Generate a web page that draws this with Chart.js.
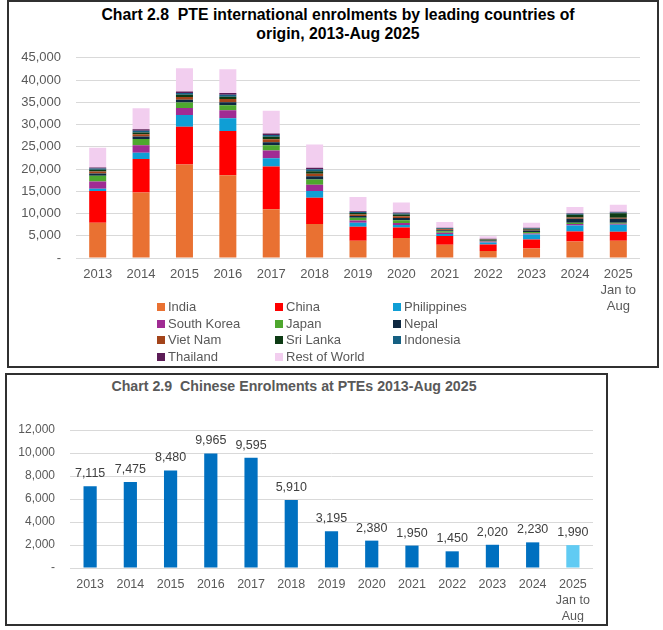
<!DOCTYPE html>
<html>
<head>
<meta charset="utf-8">
<script src="https://cdn.jsdelivr.net/npm/chart.js@4.4.1/dist/chart.umd.min.js"></script>
<style>
  html, body { margin:0; padding:0; background:#fff; }
  body { width:663px; height:630px; position:relative; overflow:hidden; font-family:"Liberation Sans", Arial, sans-serif; }
  .frame { position:absolute; border:2px solid #303030; box-sizing:border-box; }
  .title { position:absolute; text-align:center; font-weight:bold; white-space:nowrap; }
  .cv { position:absolute; }
  #legend { position:absolute; left:157px; top:299px; width:360px; display:grid; grid-template-columns:118px 118px 118px; font-size:13px; color:#595959; line-height:16.6px; }
  #legend .it { display:flex; align-items:center; white-space:nowrap; }
  #legend .bx { width:8px; height:8px; margin-right:3px; flex:none; }
</style>
</head>
<body>
<div class="frame" style="left:7px; top:0px; width:652px; height:368px;"></div>
<div class="frame" style="left:5px; top:373px; width:603px; height:253px;"></div>

<div class="title" style="left:38px; width:600px; top:5px; font-size:15.8px; line-height:19px; color:#000; font-family:'Liberation Sans Narrow','Liberation Sans',Arial,sans-serif;">Chart 2.8&nbsp; PTE international enrolments by leading countries of<br>origin, 2013-Aug 2025</div>
<div class="title" style="left:0px; width:588px; top:376px; font-size:14.2px; line-height:20px; color:#595959; font-family:'Liberation Sans Narrow','Liberation Sans',Arial,sans-serif;">Chart 2.9&nbsp; Chinese Enrolments at PTEs 2013-Aug 2025</div>

<div class="cv" style="left:8px; top:35px; width:645px; height:283px;"><canvas id="c1"></canvas></div>
<div id="legend"></div>
<div class="cv" style="left:8px; top:400px; width:597px; height:222px;"><canvas id="c2"></canvas></div>

<script>
// ---------- data ----------
const years = ['2013','2014','2015','2016','2017','2018','2019','2020','2021','2022','2023','2024',['2025','Jan to','Aug']];

const india       = [7950, 14750, 21000, 18600, 10950, 7650, 3850, 4500, 3000, 1600, 2150, 3700, 3900];
const china       = [7115, 7475, 8480, 9965, 9595, 5910, 3195, 2380, 1950, 1450, 2020, 2230, 1990];
const philippines = [500, 1450, 2650, 2850, 1900, 1500, 900, 550, 450, 450, 1100, 1400, 1600];
const southKorea  = [1650, 1650, 1600, 1800, 1700, 1400, 500, 450, 300, 200, 250, 300, 200];
const japan       = [1300, 1400, 1250, 1100, 1200, 1200, 600, 600, 300, 200, 350, 300, 250];
const nepal       = [500, 600, 600, 700, 700, 700, 400, 500, 250, 120, 300, 900, 900];
const vietNam     = [400, 500, 600, 700, 650, 600, 350, 400, 200, 100, 200, 300, 200];
const sriLanka    = [400, 400, 500, 550, 550, 550, 300, 400, 150, 80, 200, 600, 1000];
const indonesia   = [300, 400, 400, 450, 400, 450, 250, 250, 120, 60, 130, 200, 200];
const thailand    = [200, 300, 350, 350, 350, 350, 150, 200, 80, 40, 100, 150, 150];
const restOfWorld = [4450, 4750, 5200, 5350, 5100, 5200, 3200, 2250, 1300, 600, 1100, 1400, 1600];

const chineseEnrolments = [7115, 7475, 8480, 9965, 9595, 5910, 3195, 2380, 1950, 1450, 2020, 2230, 1990];

const seriesNames  = ['India','China','Philippines','South Korea','Japan','Nepal','Viet Nam','Sri Lanka','Indonesia','Thailand','Rest of World'];
const seriesValues = [india, china, philippines, southKorea, japan, nepal, vietNam, sriLanka, indonesia, thailand, restOfWorld];
const seriesColors = ['#E97132','#FF0000','#0F9ED5','#A02B93','#4EA72E','#0E2841','#A3441A','#0D3B14','#156082','#5C1D57','#F2CEEF'];

// ---------- helpers ----------
const fmt = v => v === 0 ? '-' : v.toLocaleString('en-US');
const tickFont = { family: "'Liberation Sans', Arial, sans-serif", size: 13 };
Chart.defaults.color = '#595959';
Chart.defaults.animation = false;

// ---------- chart 2.8 ----------
const c1 = new Chart(document.getElementById('c1'), {
  type: 'bar',
  data: {
    labels: years,
    datasets: seriesNames.map((n, i) => ({
      label: n, data: seriesValues[i], backgroundColor: seriesColors[i],
      borderWidth: 0, barPercentage: 0.8, categoryPercentage: 0.49, stack: 's'
    }))
  },
  options: {
    responsive: true, maintainAspectRatio: false,
    layout: { padding: { top: 10, right: 13, bottom: 0, left: 0 } },
    plugins: { legend: { display: false }, title: { display: false }, tooltip: { enabled: false } },
    scales: {
      x: {
        stacked: true,
        grid: { display: false, drawTicks: false },
        border: { display: false },
        ticks: { font: tickFont, padding: 9, color: '#595959', maxRotation: 0, autoSkip: false },
        afterFit: s => { s.height = 60; }
      },
      y: {
        stacked: true, min: 0, max: 45000,
        grid: { color: '#D9D9D9', lineWidth: 1, drawTicks: false },
        border: { display: false },
        ticks: { stepSize: 5000, font: tickFont, padding: 15, color: '#595959', callback: v => fmt(v) },
        afterFit: s => { s.width = 68; }
      }
    }
  }
});

// HTML legend from the chart's datasets
const lg = document.getElementById('legend');
c1.data.datasets.forEach(ds => {
  const it = document.createElement('div'); it.className = 'it';
  const bx = document.createElement('span'); bx.className = 'bx'; bx.style.background = ds.backgroundColor;
  const tx = document.createElement('span'); tx.textContent = ds.label;
  it.appendChild(bx); it.appendChild(tx); lg.appendChild(it);
});

// ---------- chart 2.9 ----------
const barLabels = {
  id: 'barLabels',
  afterDatasetsDraw(chart) {
    const ctx = chart.ctx;
    const meta = chart.getDatasetMeta(0);
    const vals = chart.data.datasets[0].data;
    ctx.save();
    ctx.font = "12.5px 'Liberation Sans', Arial, sans-serif";
    ctx.fillStyle = '#404040';
    ctx.textAlign = 'center';
    ctx.textBaseline = 'alphabetic';
    meta.data.forEach((bar, i) => { ctx.fillText(fmt(vals[i]), bar.x, bar.y - 9); });
    ctx.restore();
  }
};

new Chart(document.getElementById('c2'), {
  type: 'bar',
  data: {
    labels: years,
    datasets: [{
      label: 'Chinese enrolments', data: chineseEnrolments,
      backgroundColor: chineseEnrolments.map((v, i) => i === chineseEnrolments.length - 1 ? '#61CBF3' : '#0070C0'),
      borderWidth: 0, barPercentage: 0.8, categoryPercentage: 0.41
    }]
  },
  options: {
    responsive: true, maintainAspectRatio: false,
    layout: { padding: { top: 30, right: 12, bottom: 0, left: 0 } },
    plugins: { legend: { display: false }, title: { display: false }, tooltip: { enabled: false } },
    scales: {
      x: {
        grid: { display: false, drawTicks: false },
        border: { display: false },
        ticks: { font: { family: tickFont.family, size: 12.5, lineHeight: 1.25 }, padding: 9, color: '#595959', maxRotation: 0, autoSkip: false },
        afterFit: s => { s.height = 54; }
      },
      y: {
        min: 0, max: 12000,
        grid: { color: '#D9D9D9', lineWidth: 1, drawTicks: false },
        border: { display: false },
        ticks: { stepSize: 2000, font: { family: tickFont.family, size: 12 }, padding: 15, color: '#595959', callback: v => fmt(v) },
        afterFit: s => { s.width = 62; }
      }
    }
  },
  plugins: [barLabels]
});
</script>
</body>
</html>
